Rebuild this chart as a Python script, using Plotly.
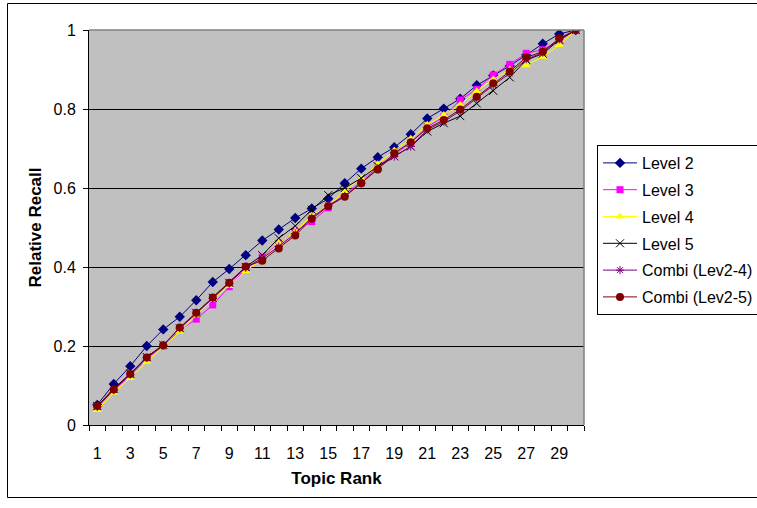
import plotly.graph_objects as go

ranks = list(range(1, 31))
level2 = [0.051,0.104,0.149,0.200,0.242,0.274,0.316,0.362,0.395,0.430,0.467,0.495,0.524,0.548,0.573,0.612,0.649,0.678,0.703,0.736,0.776,0.801,0.826,0.860,0.885,0.909,0.937,0.965,0.990,1.0]
level3 = [0.045,0.088,0.125,0.168,0.200,0.240,0.268,0.304,0.350,0.395,0.425,0.460,0.490,0.515,0.550,0.585,0.615,0.655,0.685,0.715,0.755,0.780,0.823,0.850,0.886,0.913,0.941,0.950,0.973,1.0]
level4 = [0.038,0.082,0.119,0.160,0.198,0.236,0.278,0.318,0.352,0.390,0.420,0.460,0.490,0.530,0.555,0.592,0.625,0.660,0.695,0.725,0.760,0.785,0.810,0.845,0.875,0.900,0.911,0.932,0.962,1.0]
level5 = [0.048,0.092,0.130,0.172,0.203,0.245,0.284,0.322,0.360,0.400,0.430,0.473,0.504,0.545,0.582,0.600,0.625,0.655,0.680,0.705,0.743,0.764,0.782,0.814,0.846,0.880,0.924,0.940,0.975,1.0]
combi24 = [0.046,0.089,0.128,0.170,0.202,0.245,0.282,0.320,0.358,0.398,0.422,0.452,0.485,0.525,0.556,0.580,0.612,0.650,0.680,0.705,0.748,0.768,0.795,0.828,0.860,0.890,0.926,0.943,0.977,1.0]
combi25 = [0.048,0.090,0.129,0.171,0.202,0.247,0.284,0.323,0.360,0.401,0.416,0.447,0.480,0.522,0.554,0.578,0.612,0.647,0.688,0.716,0.751,0.772,0.799,0.831,0.865,0.895,0.931,0.945,0.979,1.0]

x_ticks = list(range(1, 30, 2))
y_ticks = [0, 0.2, 0.4, 0.6, 0.8, 1]
y_labels = ["0", "0.2", "0.4", "0.6", "0.8", "1"]

series = [
    ("Level 2", level2, "#000080", "diamond", 8, None),
    ("Level 3", level3, "#FF00FF", "square", 7, None),
    ("Level 4", level4, "#FFFF00", "triangle-up", 8, None),
    ("Level 5", level5, "#000000", "x-thin-open", 8, 1),
    ("Combi (Lev2-4)", combi24, "#800080", "asterisk-open", 7, 1),
    ("Combi (Lev2-5)", combi25, "#800000", "circle", 8, None),
]

fig = go.Figure()
for i, (name, vals, color, sym, size, mlw) in enumerate(series):
    marker = dict(symbol=sym, size=size, color=color)
    if mlw:
        marker["line"] = dict(color=color, width=mlw)
    else:
        marker["line"] = dict(width=0)
    fig.add_trace(go.Scatter(x=ranks, y=vals, name=name, mode="lines+markers",
                             legendgroup=f"g{i}",
                             line=dict(color=color, width=1), marker=marker))

L, R, T, B = 89, 173, 30, 83
W, H = 757, 508
pw, ph = W - L - R, H - T - B

fig.update_layout(
    width=W, height=H,
    margin=dict(l=L, r=R, t=T, b=B, pad=0, autoexpand=False),
    paper_bgcolor="white",
    plot_bgcolor="#C0C0C0",
    font=dict(family="Liberation Sans, Arial, sans-serif", size=16, color="black"),
    showlegend=True,
    legend=dict(xref="container", yref="container",
                x=597 / W, y=1 - 145 / H, xanchor="left", yanchor="top",
                bgcolor="white", bordercolor="black", borderwidth=1,
                font=dict(size=16), tracegroupgap=3, itemwidth=34),
    xaxis=dict(range=[0.5, 30.5], tickvals=x_ticks, ticktext=[str(v) for v in x_ticks],
               showgrid=False, zeroline=False, ticks="", ticklen=0,
               ticklabelstandoff=14,
               showline=True, linecolor="black", linewidth=1, mirror=False,
               minor=dict(tickvals=[i + 0.5 for i in range(0, 31)], ticks="outside",
                          ticklen=5, tickcolor="black", showgrid=False),
               title=dict(text="<b>Topic Rank</b>", standoff=10, font=dict(size=17)),
               fixedrange=True),
    yaxis=dict(range=[0, 1], tickvals=y_ticks, ticktext=y_labels,
               showgrid=True, gridcolor="black", gridwidth=1, zeroline=False,
               ticks="outside", ticklen=5, tickcolor="black",
               ticklabelstandoff=4,
               showline=True, linecolor="black", linewidth=1,
               title=dict(text="<b>Relative Recall</b>", standoff=7, font=dict(size=17)),
               fixedrange=True),
)

# gray top/right border of the plot area
fig.add_shape(type="line", xref="paper", yref="paper", x0=0, x1=1, y0=1, y1=1,
              line=dict(color="#808080", width=1.5))
fig.add_shape(type="line", xref="paper", yref="paper", x0=1, x1=1, y0=0, y1=1,
              line=dict(color="#808080", width=1.5))
# outer chart border
fig.add_shape(type="rect", xref="paper", yref="paper",
              x0=(7.5 - L) / pw, x1=(762 - L) / pw,
              y0=(425 - 497.5) / ph, y1=(425 - 3.5) / ph,
              line=dict(color="black", width=1), fillcolor="rgba(0,0,0,0)", layer="below")

fig.write_html("out.html", config={"displayModeBar": False},
               post_script="document.body.style.margin='0';")
